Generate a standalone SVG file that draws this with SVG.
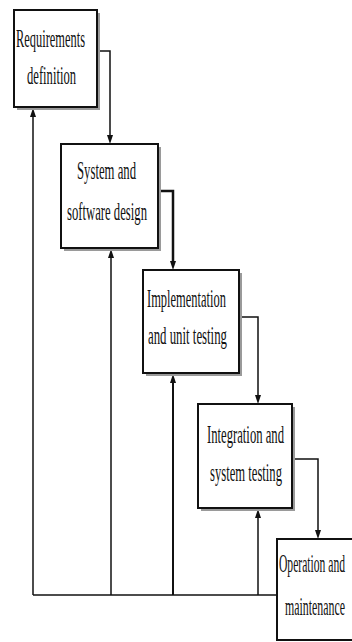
<svg xmlns="http://www.w3.org/2000/svg" width="352" height="642" viewBox="0 0 352 642">
<style>
.box{fill:#fff;stroke:#111;stroke-width:2}
.sh{fill:#9a9a9a}
.t{font-family:"Liberation Serif","DejaVu Serif",serif;font-size:26px;fill:#111}
.ln{fill:none;stroke:#111;stroke-width:1.5}
.ah{fill:#111}
</style>
<rect width="352" height="642" fill="#fff"/>
<g id="connectors">
<path class="ln" d="M97,51 H110 V136"/>
<path class="ah" d="M107,135 L113,135 L110,144 Z"/>
<path class="ln" d="M158,191 H173 V262" style="stroke-width:2.5"/>
<path class="ah" d="M170,261 L176,261 L173,270 Z"/>
<path class="ln" d="M239,317 H258 V396"/>
<path class="ah" d="M255,395 L261,395 L258,404 Z"/>
<path class="ln" d="M292,459 H318 V531"/>
<path class="ah" d="M315,530 L321,530 L318,539 Z"/>
<path class="ln" d="M277,595 H33"/>
<path class="ln" d="M33,595 V115"/>
<path class="ah" d="M30,117 L33,108 L36,117 Z"/>
<path class="ln" d="M111,595 V256"/>
<path class="ah" d="M108,258 L111,249 L114,258 Z"/>
<path class="ln" d="M173,595 V381" style="stroke-width:2"/>
<path class="ah" d="M170,383 L173,374 L176,383 Z"/>
<path class="ln" d="M258,595 V516"/>
<path class="ah" d="M255,518 L258,509 L261,518 Z"/>
</g>
<g id="n1">
<rect class="sh" x="17" y="13" width="83" height="97"/>
<rect class="box" x="14" y="10" width="83" height="97"/>
<text class="t" x="16" y="47" textLength="69" lengthAdjust="spacingAndGlyphs">Requirements</text>
<text class="t" x="27" y="84" textLength="49" lengthAdjust="spacingAndGlyphs">definition</text>
</g>
<g id="n2">
<rect class="sh" x="64" y="147" width="97" height="104"/>
<rect class="box" x="61" y="144" width="97" height="104"/>
<text class="t" x="77" y="179" textLength="59" lengthAdjust="spacingAndGlyphs">System and</text>
<text class="t" x="67" y="220" textLength="80" lengthAdjust="spacingAndGlyphs">software design</text>
</g>
<g id="n3">
<rect class="sh" x="146" y="273" width="96" height="103"/>
<rect class="box" x="143" y="270" width="96" height="103"/>
<text class="t" x="147" y="307" textLength="79" lengthAdjust="spacingAndGlyphs">Implementation</text>
<text class="t" x="148" y="344" textLength="79" lengthAdjust="spacingAndGlyphs">and unit testing</text>
</g>
<g id="n4">
<rect class="sh" x="201" y="407" width="94" height="104"/>
<rect class="box" x="198" y="404" width="94" height="104"/>
<text class="t" x="207" y="443" textLength="77" lengthAdjust="spacingAndGlyphs">Integration and</text>
<text class="t" x="210" y="481" textLength="72" lengthAdjust="spacingAndGlyphs">system testing</text>
</g>
<g id="n5">
<rect class="box" x="277" y="539" width="78" height="101"/>
<text class="t" x="279" y="572" textLength="66" lengthAdjust="spacingAndGlyphs">Operation and</text>
<text class="t" x="285" y="615" textLength="60" lengthAdjust="spacingAndGlyphs">maintenance</text>
</g>
</svg>
